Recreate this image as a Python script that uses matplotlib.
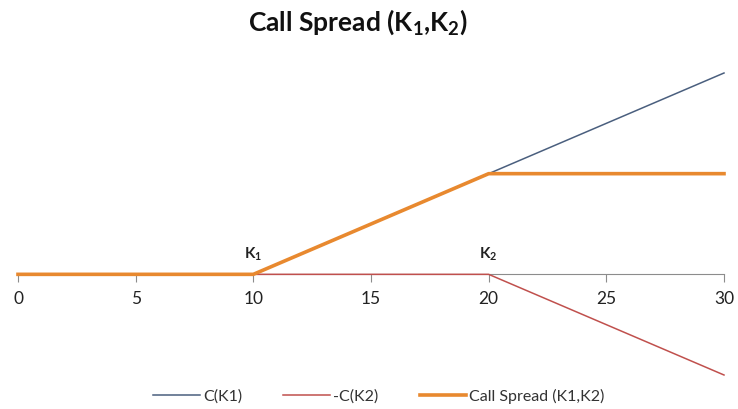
import matplotlib.pyplot as plt

plt.rcParams['font.family'] = ['Lato', 'DejaVu Sans']
plt.rcParams['mathtext.default'] = 'regular'

# payoff data
spot = [0, 10, 20, 30]
long_call_k1 = [0, 0, 10, 20]
short_call_k2 = [0, 0, 0, -10]
call_spread = [0, 0, 10, 10]
strikes = [10, 20]
strike_labels = ['K$_1$', 'K$_2$']
xticks = [0, 5, 10, 15, 20, 25, 30]

fig = plt.figure(figsize=(7.38, 4.09), dpi=100)
ax = fig.add_axes([18 / 738, (409 - 375) / 409, (724 - 18) / 738, (375 - 73) / 409])

ax.plot(spot, long_call_k1, color='#4A5F7E', lw=1.1, label='C(K1)', clip_on=False, zorder=3)
ax.plot(spot, short_call_k2, color='#C0504D', lw=1.1, label='-C(K2)', clip_on=False, zorder=3)
ax.plot(spot, call_spread, color='#E8892F', lw=2.6, label='Call Spread (K1,K2)',
        clip_on=False, zorder=4, solid_joinstyle='round')

ax.set_xlim(0, 30)
ax.set_ylim(-10, 20)

for s in ['top', 'right', 'left']:
    ax.spines[s].set_visible(False)
ax.spines['bottom'].set_position(('data', 0))
ax.spines['bottom'].set_color('#8C8C8C')
ax.spines['bottom'].set_zorder(2)
ax.set_yticks([])
ax.set_xticks(xticks)
ax.tick_params(axis='x', direction='out', length=6, color='#8C8C8C', pad=6,
               labelsize=12.5, labelcolor='#222222')

for k, lab in zip(strikes, strike_labels):
    ax.text(k, 1.1, lab, ha='center', va='bottom', fontsize=11, fontweight='bold',
            color='#222222')

fig.text(358 / 738, 1 - 22 / 409, 'Call Spread (K$_1$,K$_2$)', ha='center', va='center',
         fontsize=19, fontweight='bold', color='#111111')

leg = fig.legend(loc='center', bbox_to_anchor=(379 / 738, 1 - 396 / 409), ncol=3,
                 frameon=False, fontsize=11.5, handlelength=2.9, handletextpad=0.2,
                 columnspacing=2.6)
for t in leg.get_texts():
    t.set_color('#333333')

fig.savefig('out.png', dpi=100)
